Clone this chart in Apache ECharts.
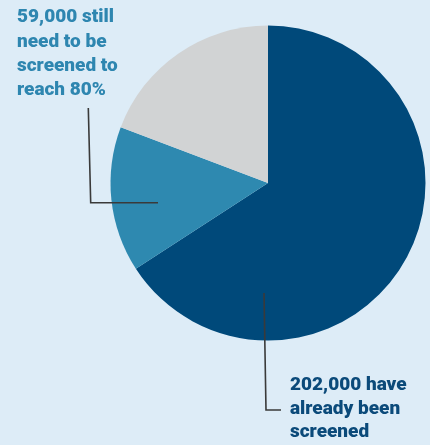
<!DOCTYPE html>
<html>
<head>
<meta charset="utf-8">
<script src="https://cdn.jsdelivr.net/npm/echarts@6/dist/echarts.min.js"></script>
<style>
html,body{margin:0;padding:0;background:#ddecf7;}
#c{width:430px;height:445px;}
</style>
</head>
<body>
<div id="c"></div>
<script>
const categories = ['Already screened', 'Other', 'Still need to be screened'];
const values = [202000, 45800, 59000];
const colors = ['#00497a', '#2e89b0', '#d1d3d4'];
const labelStill = ['59,000 still', 'need to be', 'screened to', 'reach 80%'];
const labelDone = ['202,000 have', 'already been', 'screened'];

const chart = echarts.init(document.getElementById('c'), null, {renderer: 'canvas'});
const font = 'Roboto, "Liberation Sans", sans-serif';
chart.setOption({
  backgroundColor: '#ddecf7',
  animation: false,
  series: [{
    type: 'pie',
    center: [268, 183],
    radius: [0, 157.5],
    startAngle: 90,
    clockwise: true,
    label: {show: false},
    labelLine: {show: false},
    emphasis: {disabled: true},
    data: categories.map((c, i) => ({name: c, value: values[i], itemStyle: {color: colors[i]}}))
  }],
  graphic: [
    {type: 'polyline', shape: {points: [[88.3, 108], [90.7, 202.7], [158, 202.7]]}, style: {stroke: '#3a3a3a', lineWidth: 1.6, fill: null}, z: 10},
    {type: 'polyline', shape: {points: [[264, 293], [266, 410], [281, 410]]}, style: {stroke: '#3a3a3a', lineWidth: 1.6, fill: null}, z: 10},
    {type: 'text', left: 17, top: 5.5, z: 10, style: {text: labelStill.join('\n'), fill: '#2e86b0', font: '900 19px ' + font, lineHeight: 24.2}},
    {type: 'text', left: 290, top: 373.5, z: 10, style: {text: labelDone.join('\n'), fill: '#0b4a7a', font: '900 19px ' + font, lineHeight: 23.5}}
  ]
});
</script>
</body>
</html>
